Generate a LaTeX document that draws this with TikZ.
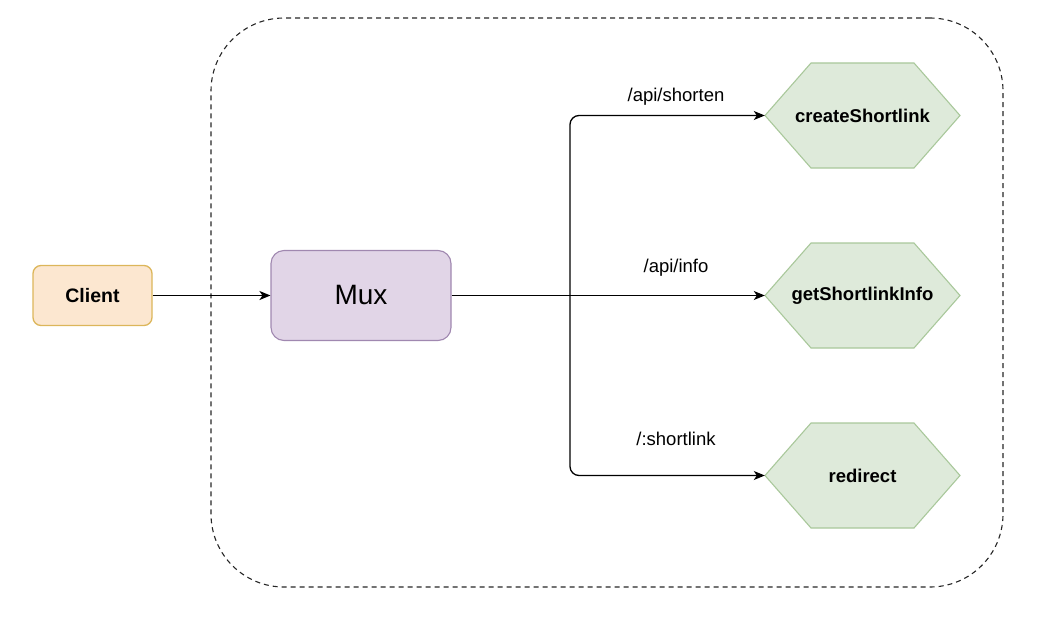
\documentclass[tikz,border=0pt]{standalone}
\usepackage{fontspec}
\setmainfont{Liberation Sans}
\usetikzlibrary{arrows.meta}
\definecolor{clientfill}{HTML}{FCE7D0}
\definecolor{clientdraw}{HTML}{DCB65A}
\definecolor{muxfill}{HTML}{E1D5E7}
\definecolor{muxdraw}{HTML}{A088B0}
\definecolor{hexfill}{HTML}{DEEADA}
\definecolor{hexdraw}{HTML}{A9C89B}
\tikzset{
  boxbase/.style={rectangle, align=center, inner sep=0pt},
  clientbox/.style={boxbase, rounded corners=8pt, fill=clientfill, draw=clientdraw, line width=1.3pt,
    minimum width=119pt, minimum height=60pt, font=\fontsize{19.5}{22}\selectfont\bfseries},
  muxbox/.style={boxbase, rounded corners=13pt, fill=muxfill, draw=muxdraw, line width=1.1pt,
    minimum width=180pt, minimum height=90pt, font=\fontsize{28}{32}\selectfont},
  hexnode/.style={boxbase, minimum width=195pt, minimum height=105pt, font=\fontsize{18.5}{22}\selectfont\bfseries},
  hexbox/.style={fill=hexfill, draw=hexdraw, line width=1.1pt, line join=miter},
  routelabel/.style={inner sep=0pt, font=\fontsize{18.5}{22}\selectfont},
  edge/.style={draw=black, line width=1.3pt, -{Stealth[length=11pt,width=9pt,inset=3pt]}},
  container/.style={rectangle, draw=black!85, line width=1.1pt, dash pattern=on 5pt off 4pt,
    rounded corners=73pt, minimum width=792pt, minimum height=569pt, inner sep=0pt}
}
\newcommand\hexshapeat[1]{%
  \path[hexbox] (#1) ++(-97.5,0) -- ++(46,-52.5) -- ++(103,0) -- ++(46,52.5)
    -- ++(-46,52.5) -- ++(-103,0) -- cycle;}
\begin{document}
\begin{tikzpicture}[x=1pt,y=-1pt]
\useasboundingbox (0,0) rectangle (1062,618);
% container
\node[container] (grp) at (607,302.5) {};
% hexagons
\coordinate (csc) at (862.5,115.5);
\coordinate (gic) at (862.5,295.5);
\coordinate (rdc) at (862.5,475.5);
\hexshapeat{csc}
\hexshapeat{gic}
\hexshapeat{rdc}
\node[hexnode] (cs) at (csc) {createShortlink};
\node[hexnode] (gi) at (gic) {getShortlinkInfo};
\node[hexnode] (rd) at (rdc) {redirect};
% client and mux
\node[clientbox] (client) at (92.5,295.5) {Client};
\node[muxbox] (mux) at (361,295.5) {Mux};
% labels
\node[routelabel] (l1) at (676,97) {/api/shorten};
\node[routelabel] (l2) at (676,268) {/api/info};
\node[routelabel] (l3) at (676,439) {/:shortlink};
% connectors
\coordinate (br) at (570,295.5);
\draw[edge] (client.east) -- (mux.west);
\draw[edge] (mux.east) -- (gi.west);
\draw[edge, rounded corners=9pt] (br) |- (cs.west);
\draw[edge, rounded corners=9pt] (br) |- (rd.west);
\end{tikzpicture}
\end{document}
